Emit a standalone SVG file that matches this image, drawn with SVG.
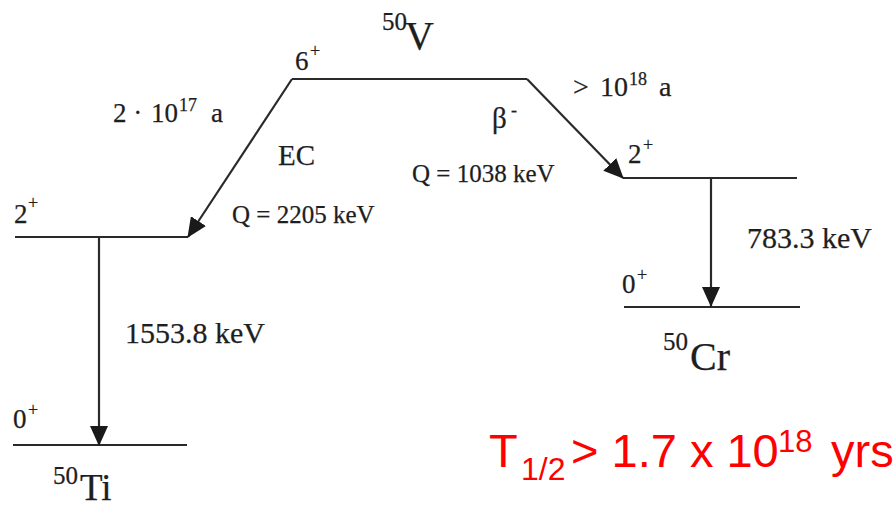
<svg xmlns="http://www.w3.org/2000/svg" width="895" height="507" viewBox="0 0 895 507">
<style>
.t{font-family:"Liberation Serif","Times New Roman",serif;fill:#1e1e1e;stroke:#1e1e1e;stroke-width:0.25;}
.lvl{stroke:#2a2a2a;stroke-width:2.2;fill:none;}
.arr{stroke:#2a2a2a;stroke-width:2.2;fill:none;marker-end:url(#ah);}
.red{font-family:"Liberation Sans",Arial,sans-serif;fill:#ff0000;}
</style>
<defs>
<marker id="ah" markerUnits="userSpaceOnUse" viewBox="0 0 20 18" markerWidth="20" markerHeight="18" refX="19" refY="9" orient="auto">
<path d="M0,0 L20,9 L0,18 z" fill="#1a1a1a"/>
</marker>
</defs>
<rect width="895" height="507" fill="#fff"/>

<g id="V50">
<line class="lvl" x1="292" y1="79" x2="527" y2="79"/>
<text class="t" x="382" y="30" font-size="25">50</text>
<text class="t" x="405" y="49" font-size="40">V</text>
<text class="t" x="295" y="70" font-size="27">6</text>
<text class="t" x="310" y="57" font-size="18">+</text>
</g>

<g id="Ti50-2plus">
<line class="lvl" x1="15" y1="237" x2="188" y2="237"/>
<text class="t" x="14" y="223" font-size="27">2</text>
<text class="t" x="28" y="209" font-size="18">+</text>
</g>

<g id="Ti50-0plus">
<line class="lvl" x1="13" y1="445" x2="187" y2="445"/>
<text class="t" x="13" y="428" font-size="27">0</text>
<text class="t" x="28" y="416" font-size="18">+</text>
<text class="t" x="53" y="484" font-size="25">50</text>
<text class="t" x="80" y="500" font-size="37">Ti</text>
</g>

<g id="Cr50-2plus">
<line class="lvl" x1="623" y1="178" x2="797" y2="178"/>
<text class="t" x="628" y="163" font-size="27">2</text>
<text class="t" x="643" y="151" font-size="18">+</text>
</g>

<g id="Cr50-0plus">
<line class="lvl" x1="624" y1="307" x2="800" y2="307"/>
<text class="t" x="622" y="293" font-size="27">0</text>
<text class="t" x="637" y="281" font-size="18">+</text>
<text class="t" x="663" y="350" font-size="25">50</text>
<text class="t" x="690" y="370" font-size="40">Cr</text>
</g>

<g id="connectors">
<line class="arr" x1="292" y1="79" x2="188" y2="237"/>
<line class="arr" x1="527" y1="79" x2="623" y2="178"/>
<line class="arr" x1="99" y1="237" x2="99" y2="445"/>
<line class="arr" x1="711" y1="178" x2="711" y2="306"/>
<text class="t" x="113" y="122" font-size="27">2 ·</text>
<text class="t" x="151" y="122" font-size="27">10</text>
<text class="t" x="179" y="111" font-size="18">17</text>
<text class="t" x="211" y="122" font-size="27">a</text>
<text class="t" x="278" y="165" font-size="29">EC</text>
<text class="t" x="232" y="223" font-size="25">Q = 2205 keV</text>
<text class="t" x="573" y="96" font-size="28">&gt;</text>
<text class="t" x="600" y="96" font-size="28">10</text>
<text class="t" x="629" y="85" font-size="18">18</text>
<text class="t" x="659" y="96" font-size="28">a</text>
<text class="t" x="492" y="128" font-size="29">β</text>
<text class="t" x="511" y="116" font-size="18">-</text>
<text class="t" x="412" y="182" font-size="25">Q = 1038 keV</text>
<text class="t" x="125" y="343" font-size="30">1553.8 keV</text>
<text class="t" x="747" y="248" font-size="30">783.3 keV</text>
</g>

<g id="halflife">
<text class="red" x="489" y="467" font-size="47">T</text>
<text class="red" x="521" y="480" font-size="32">1/2</text>
<text class="red" x="571" y="467" font-size="47">&gt; 1.7 x 10</text>
<text class="red" x="778" y="452" font-size="31">18</text>
<text class="red" x="831" y="467" font-size="47">yrs</text>
</g>
</svg>
